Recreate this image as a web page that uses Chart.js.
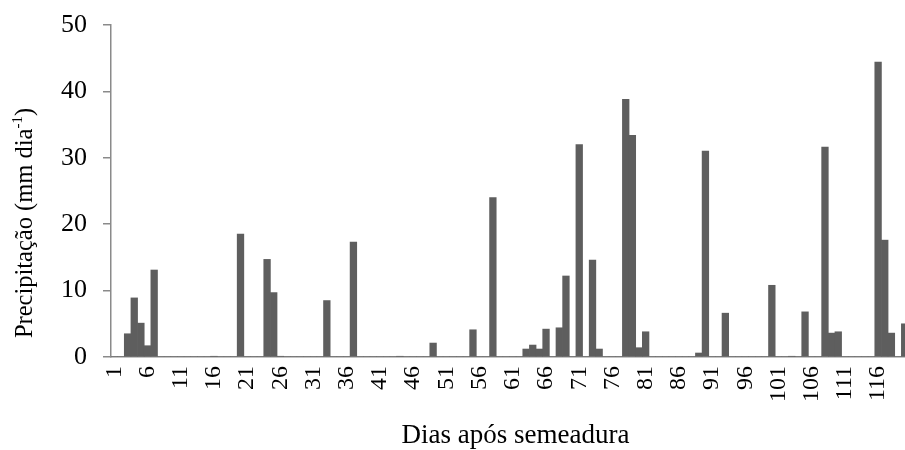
<!DOCTYPE html>
<html>
<head>
<meta charset="utf-8">
<script src="https://cdn.jsdelivr.net/npm/chart.js@4/dist/chart.umd.min.js"></script>
<style>
  html, body { margin: 0; padding: 0; background: #fff; overflow: hidden; }
  #wrap { width: 908px; height: 450px; }
</style>
</head>
<body>
<div id="wrap"><canvas id="chart" width="908" height="450"></canvas></div>
<script>
// days after sowing
const days = [
  1, 2, 3, 4, 5, 6, 7, 8, 9, 10,
  11, 12, 13, 14, 15, 16, 17, 18, 19, 20,
  21, 22, 23, 24, 25, 26, 27, 28, 29, 30,
  31, 32, 33, 34, 35, 36, 37, 38, 39, 40,
  41, 42, 43, 44, 45, 46, 47, 48, 49, 50,
  51, 52, 53, 54, 55, 56, 57, 58, 59, 60,
  61, 62, 63, 64, 65, 66, 67, 68, 69, 70,
  71, 72, 73, 74, 75, 76, 77, 78, 79, 80,
  81, 82, 83, 84, 85, 86, 87, 88, 89, 90,
  91, 92, 93, 94, 95, 96, 97, 98, 99, 100,
  101, 102, 103, 104, 105, 106, 107, 108, 109, 110,
  111, 112, 113, 114, 115, 116, 117, 118, 119, 120
];

// rainfall, mm per day
const rain = [
  0, 0, 3.5, 8.9, 5.1, 1.7, 13.1, 0, 0, 0,
  0, 0, 0, 0, 0, 0.1, 0, 0, 0, 18.5,
  0, 0, 0, 14.7, 9.7, 0.1, 0, 0, 0, 0,
  0, 0, 8.5, 0, 0, 0, 17.3, 0, 0, 0,
  0, 0, 0, 0.1, 0, 0, 0, 0, 2.1, 0,
  0, 0, 0, 0, 4.1, 0, 0, 24.0, 0, 0,
  0, 0, 1.2, 1.8, 1.2, 4.2, 0, 4.4, 12.2, 0,
  32.0, 0, 14.6, 1.2, 0, 0, 0, 38.8, 33.4, 1.4,
  3.8, 0, 0, 0, 0, 0, 0, 0, 0.6, 31.0,
  0, 0, 6.6, 0, 0, 0, 0, 0, 0, 10.8,
  0, 0, 0.1, 0, 6.8, 0, 0, 31.6, 3.6, 3.8,
  0, 0, 0, 0, 0, 44.4, 17.6, 3.6, 0, 5.0
];

// only every fifth day gets a label
const shownDays = [1, 6, 11, 16, 21, 26, 31, 36, 41, 46, 51, 56, 61, 66, 71, 76, 81, 86, 91, 96, 101, 106, 111, 116];
const yTicks = [0, 10, 20, 30, 40, 50];

const xTitle = 'Dias após semeadura';
const yTitle = 'Precipitação (mm dia';
const yTitleSup = '-1';

const serif = '"Liberation Serif", "Times New Roman", serif';
const axisColor = '#8a8a8a';

// axis titles drawn by hand so the unit can carry a real superscript
const axisTitles = {
  id: 'axisTitles',
  afterDraw(chart) {
    const { ctx, chartArea } = chart;
    ctx.save();
    ctx.fillStyle = '#000';
    ctx.textBaseline = 'alphabetic';

    ctx.font = '27px ' + serif;
    ctx.textAlign = 'center';
    ctx.fillText(xTitle, (chartArea.left + chartArea.right) / 2 + 6, 443);

    // y title, reading bottom to top
    ctx.translate(32, (chartArea.top + chartArea.bottom) / 2 + 32);
    ctx.rotate(-Math.PI / 2);
    ctx.textAlign = 'left';
    ctx.font = '24.5px ' + serif;
    const wMain = ctx.measureText(yTitle).width;
    const wClose = ctx.measureText(')').width;
    ctx.font = '15px ' + serif;
    const wSup = ctx.measureText(yTitleSup).width;
    let x = -(wMain + wSup + wClose) / 2;
    ctx.font = '24.5px ' + serif;
    ctx.fillText(yTitle, x, 0);
    x += wMain;
    ctx.font = '15px ' + serif;
    ctx.fillText(yTitleSup, x, -10);
    x += wSup;
    ctx.font = '24.5px ' + serif;
    ctx.fillText(')', x, 0);
    ctx.restore();
  }
};

new Chart(document.getElementById('chart'), {
  type: 'bar',
  data: {
    labels: days,
    datasets: [{
      data: rain,
      backgroundColor: '#5e5e5e',
      borderWidth: 0,
      barPercentage: 1,
      categoryPercentage: 1
    }]
  },
  options: {
    responsive: false,
    animation: false,
    devicePixelRatio: 1,
    layout: { padding: { top: 25, right: 0, bottom: 0, left: 0 } },
    plugins: { legend: { display: false }, tooltip: { enabled: false } },
    scales: {
      x: {
        grid: { display: false, drawTicks: false },
        border: { display: true, color: axisColor, width: 1.5 },
        ticks: {
          autoSkip: false,
          minRotation: 90,
          maxRotation: 90,
          padding: 9,
          color: '#000',
          font: { family: serif, size: 24 },
          callback: function (value) {
            const d = days[value];
            return shownDays.includes(d) ? String(d) : '';
          }
        },
        afterFit: s => {
          s.height = 93;
          s.paddingLeft = 0;
          s.paddingRight = 0;
        }
      },
      y: {
        min: 0,
        max: 50,
        afterBuildTicks: s => { s.ticks = yTicks.map(v => ({ value: v })); },
        grid: { drawOnChartArea: false, drawTicks: true, tickLength: 8, color: axisColor, lineWidth: 1.5 },
        border: { display: true, color: axisColor, width: 1.5 },
        ticks: { padding: 16, color: '#000', font: { family: serif, size: 26 } },
        afterFit: s => {
          s.width = 111;
          s.paddingTop = 0;
          s.paddingBottom = 0;
        }
      }
    }
  },
  plugins: [axisTitles]
});
</script>
</body>
</html>
